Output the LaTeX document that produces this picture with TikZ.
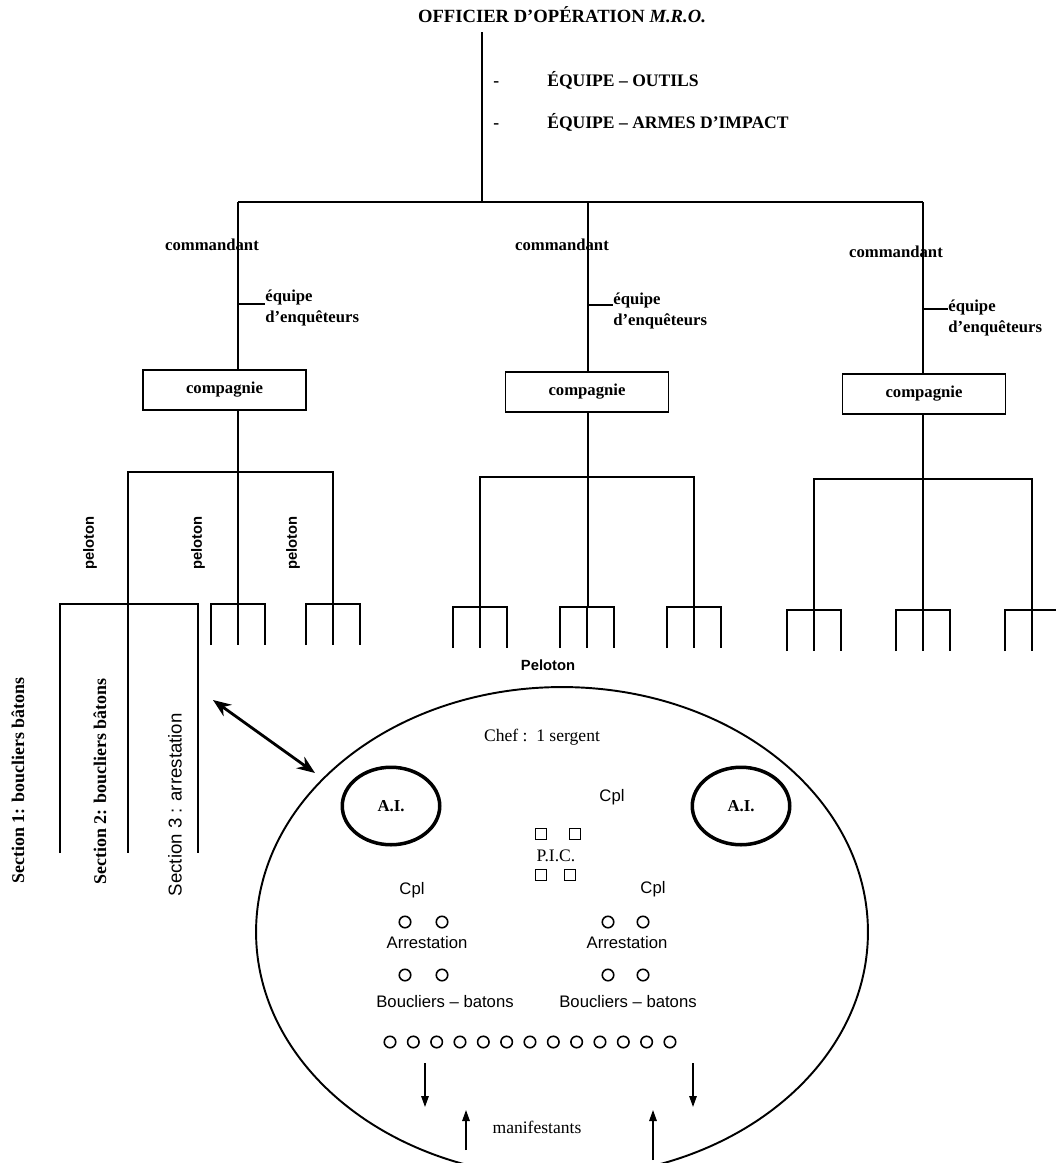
\documentclass[tikz,border=0pt]{standalone}
\usepackage{fontspec}
\setmainfont{Liberation Serif}
\setsansfont{Liberation Sans}
\usetikzlibrary{arrows.meta,shapes.geometric}

\tikzset{
  trait/.style={line width=1.6pt},
  fin/.style={line width=1.1pt},
  titre/.style={font=\fontsize{10}{12}\selectfont\bfseries, inner sep=0pt},
  lbl/.style={font=\fontsize{9.5}{12}\selectfont\bfseries, inner sep=0pt},
  enq/.style={lbl, align=left},
  boite/.style={draw, line width=1.1pt, font=\fontsize{9.5}{12}\selectfont\bfseries,
    minimum width=3.26cm, minimum height=0.8cm, inner sep=0pt},
  pel/.style={font=\fontsize{8.4}{10}\sffamily\bfseries, inner sep=0pt},
  sect/.style={font=\fontsize{10.2}{12}\selectfont\bfseries, inner sep=0pt, rotate=90, anchor=east},
  sectb/.style={font=\fontsize{10.6}{12}\sffamily, inner sep=0pt, rotate=90, anchor=east},
  txt/.style={font=\fontsize{10}{12}\selectfont, inner sep=0pt},
  stxt/.style={font=\fontsize{9.5}{12}\sffamily, inner sep=0pt},
  ai/.style={draw, ellipse, line width=2pt, minimum width=1.95cm, minimum height=1.55cm,
    font=\fontsize{9.5}{12}\selectfont\bfseries, inner sep=0pt},
  rond/.style={draw, circle, line width=0.9pt, minimum size=0.23cm, inner sep=0pt},
  carre/.style={draw, rectangle, line width=0.9pt, minimum size=0.22cm, inner sep=0pt},
  fl/.style={line width=0.8pt, -{Triangle[length=0.22cm,width=0.15cm]}},
  fleche2/.style={line width=1.6pt, {Stealth[length=0.36cm,width=0.28cm]}-{Stealth[length=0.36cm,width=0.28cm]}}
}

\begin{document}
\begin{tikzpicture}[x=0.02cm,y=-0.02cm]
\useasboundingbox (0,0) rectangle (1055,1163);
% officier d'opération
\node[titre, font=\fontsize{10.6}{12}\selectfont\bfseries] (ofc) at (562,15) {OFFICIER D'OPÉRATION \textit{M.R.O.}};
\path (482,32) coordinate (o1);
\path (482,202) coordinate (o2);
\draw[trait] (o1) -- (o2);
\node[titre, anchor=west] (outils) at (493,80) {\makebox[1.08cm][l]{-}ÉQUIPE – OUTILS};
\node[titre, anchor=west] (armes) at (493,122) {\makebox[1.08cm][l]{-}ÉQUIPE – ARMES D'IMPACT};
% ligne des commandants
\path (238,202) coordinate (c1);
\path (588,202) coordinate (c2);
\path (923,202) coordinate (c3);
\draw[trait] (c1) -- (c3);

% compagnie 1
\node[lbl] (cmd1) at (212,245) {commandant};
\node[boite] (cie1) at (224.5,390) {compagnie};
\draw[trait] (c1) -- (c1 |- cie1.north);
\path (238,304) coordinate (e1);
\path (265,304) coordinate (e1b);
\draw[fin] (e1) -- (e1b);
\node[enq, anchor=west] (enq1) at (265,308) {équipe\\d’enquêteurs};
\path (238,604) coordinate (m1);
\draw[trait] (c1 |- cie1.south) -- (m1);
\draw[trait] (128,604) |- (333,472) -- (333,604);

% compagnie 2
\node[lbl] (cmd2) at (562,245) {commandant};
\node[boite] (cie2) at (587,392) {compagnie};
\draw[trait] (c2) -- (c2 |- cie2.north);
\path (588,305) coordinate (e2);
\path (613,305) coordinate (e2b);
\draw[fin] (e2) -- (e2b);
\node[enq, anchor=west] (enq2) at (613,311) {équipe\\d’enquêteurs};
\path (588,607) coordinate (m2);
\draw[trait] (c2 |- cie2.south) -- (m2);
\draw[trait] (480,607) |- (694,477) -- (694,607);

% compagnie 3
\node[lbl] (cmd3) at (896,252) {commandant};
\node[boite] (cie3) at (924,394) {compagnie};
\draw[trait] (c3) -- (c3 |- cie3.north);
\path (923,309) coordinate (e3);
\path (948,309) coordinate (e3b);
\draw[fin] (e3) -- (e3b);
\node[enq, anchor=west] (enq3) at (948,318) {équipe\\d’enquêteurs};
\path (923,610) coordinate (m3);
\draw[trait] (c3 |- cie3.south) -- (m3);
\draw[trait] (814,610) |- (1032,479) -- (1032,610);

% pelotons
\foreach \c/\y in {238/604, 333/604, 480/607, 587/607, 694/607, 814/610, 923/610, 1032/610}
  \draw[fin] (\c-27,\y+41) |- (\c+27,\y) -- (\c+27,\y+41) (\c,\y) -- (\c,\y+41);
\draw[fin] (60,853) |- (198,604) -- (198,853) (128,604) -- (128,853);
\foreach \x/\n in {90/1, 198/2, 293/3}
  \node[pel, rotate=90] (pel\n) at (\x,543) {peloton};
\node[pel] (peloton) at (548,665) {Peloton};

% sections
\node[sect] (s1) at (18,677) {Section 1: boucliers bâtons};
\node[sect] (s2) at (100,678) {Section 2: boucliers bâtons};
\node[sectb] (s3) at (175,713) {Section 3 : arrestation};

% détail du peloton
\path (213,700) coordinate (f1);
\path (315,773) coordinate (f2);
\draw[fleche2] (f1) -- (f2);
\node[draw, ellipse, line width=1.1pt, minimum width=12.24cm, minimum height=9.8cm] (zone) at (562,932) {};
\node[txt] (chef) at (542,737) {Chef :\, 1 sergent};
\node[ai] (ai1) at (391,806) {A.I.};
\node[ai] (ai2) at (741,806) {A.I.};
\node[stxt] (cpl1) at (612,797) {Cpl};
\node[carre] (q1) at (541,834) {};
\node[carre] (q2) at (575,834) {};
\node[txt] (pic) at (556,856) {P.I.C.};
\node[carre] (q3) at (541,875) {};
\node[carre] (q4) at (570,875) {};
\node[stxt] (cpl2) at (412,890) {Cpl};
\node[stxt] (cpl3) at (653,889) {Cpl};
\foreach \x/\n in {405/1, 442/2, 608/3, 643/4} {
  \node[rond] (a\n) at (\x,922) {};
  \node[rond] (b\n) at (\x,975) {};
}
\node[stxt] (arr1) at (427,943) {Arrestation};
\node[stxt] (arr2) at (627,943) {Arrestation};
\node[stxt] (bou1) at (445,1002) {Boucliers – batons};
\node[stxt] (bou2) at (628,1002) {Boucliers – batons};
\foreach \k in {0,...,12}
  \node[rond] (r\k) at ({390+\k*23.33},1042) {};
% manifestants
\path (425,1063) coordinate (d1);
\path (425,1107) coordinate (d1b);
\path (693,1063) coordinate (d2);
\path (693,1107) coordinate (d2b);
\draw[fl] (d1) -- (d1b);
\draw[fl] (d2) -- (d2b);
\path (466,1150) coordinate (u1);
\path (466,1110) coordinate (u1b);
\path (653,1160) coordinate (u2);
\path (653,1110) coordinate (u2b);
\draw[fl] (u1) -- (u1b);
\draw[fl] (u2) -- (u2b);
\node[txt] (manif) at (537,1127) {manifestants};
\end{tikzpicture}
\end{document}
